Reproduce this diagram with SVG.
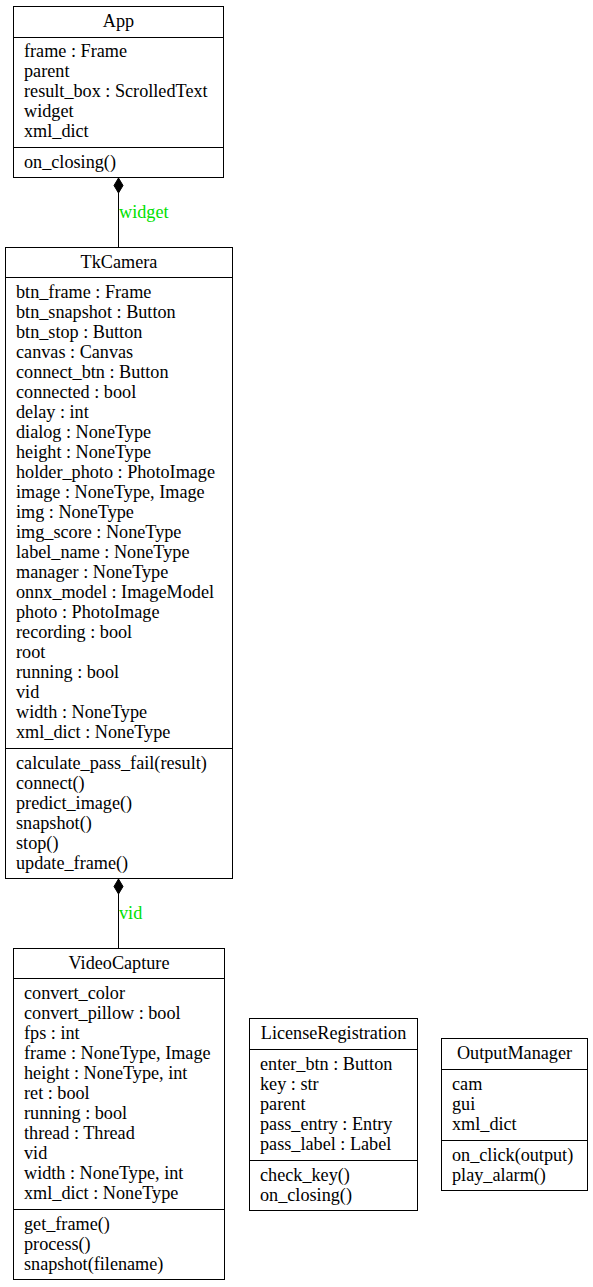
<svg xmlns="http://www.w3.org/2000/svg" width="593" height="1287" viewBox="0 0 593 1287">
<style>
text{font-family:"Liberation Serif","Times New Roman",serif;font-size:18.2px;fill:#000}
.t{text-anchor:middle}
.box{fill:#fff;stroke:#000;stroke-width:1}
.sep{stroke:#000;stroke-width:1}
.edge{stroke:#000;stroke-width:1;fill:none}
.lbl{fill:#00e000}
</style>
<rect width="593" height="1287" fill="#fff"/>
<g id="connectors">
<line class="edge" x1="118.5" y1="193" x2="118.5" y2="247"/>
<path d="M118.5,178 L123,185.5 L118.5,193 L114,185.5 Z" fill="#000" stroke="#000"/>
<text class="lbl" x="119" y="218">widget</text>
<line class="edge" x1="118.5" y1="894" x2="118.5" y2="948"/>
<path d="M118.5,879 L123,886.5 L118.5,894 L114,886.5 Z" fill="#000" stroke="#000"/>
<text class="lbl" x="119" y="919">vid</text>
</g>
<g id="App">
<rect class="box" x="13.5" y="6.5" width="210" height="171"/>
<text class="t" x="118.5" y="27">App</text>
<line class="sep" x1="13.5" y1="37.5" x2="223.5" y2="37.5"/>
<text x="24" y="57">frame : Frame</text>
<text x="24" y="77">parent</text>
<text x="24" y="97">result_box : ScrolledText</text>
<text x="24" y="117">widget</text>
<text x="24" y="137">xml_dict</text>
<line class="sep" x1="13.5" y1="147.5" x2="223.5" y2="147.5"/>
<text x="24" y="168">on_closing()</text>
</g>
<g id="TkCamera">
<rect class="box" x="5.5" y="247.5" width="227" height="631"/>
<text class="t" x="119" y="268">TkCamera</text>
<line class="sep" x1="5.5" y1="277.5" x2="232.5" y2="277.5"/>
<text x="16" y="298">btn_frame : Frame</text>
<text x="16" y="318">btn_snapshot : Button</text>
<text x="16" y="338">btn_stop : Button</text>
<text x="16" y="358">canvas : Canvas</text>
<text x="16" y="378">connect_btn : Button</text>
<text x="16" y="398">connected : bool</text>
<text x="16" y="418">delay : int</text>
<text x="16" y="438">dialog : NoneType</text>
<text x="16" y="458">height : NoneType</text>
<text x="16" y="478">holder_photo : PhotoImage</text>
<text x="16" y="498">image : NoneType, Image</text>
<text x="16" y="518">img : NoneType</text>
<text x="16" y="538">img_score : NoneType</text>
<text x="16" y="558">label_name : NoneType</text>
<text x="16" y="578">manager : NoneType</text>
<text x="16" y="598">onnx_model : ImageModel</text>
<text x="16" y="618">photo : PhotoImage</text>
<text x="16" y="638">recording : bool</text>
<text x="16" y="658">root</text>
<text x="16" y="678">running : bool</text>
<text x="16" y="698">vid</text>
<text x="16" y="718">width : NoneType</text>
<text x="16" y="738">xml_dict : NoneType</text>
<line class="sep" x1="5.5" y1="748.5" x2="232.5" y2="748.5"/>
<text x="16" y="769">calculate_pass_fail(result)</text>
<text x="16" y="789">connect()</text>
<text x="16" y="809">predict_image()</text>
<text x="16" y="829">snapshot()</text>
<text x="16" y="849">stop()</text>
<text x="16" y="869">update_frame()</text>
</g>
<g id="VideoCapture">
<rect class="box" x="13.5" y="948.5" width="211" height="331"/>
<text class="t" x="119" y="969">VideoCapture</text>
<line class="sep" x1="13.5" y1="978.5" x2="224.5" y2="978.5"/>
<text x="24" y="999">convert_color</text>
<text x="24" y="1019">convert_pillow : bool</text>
<text x="24" y="1039">fps : int</text>
<text x="24" y="1059">frame : NoneType, Image</text>
<text x="24" y="1079">height : NoneType, int</text>
<text x="24" y="1099">ret : bool</text>
<text x="24" y="1119">running : bool</text>
<text x="24" y="1139">thread : Thread</text>
<text x="24" y="1159">vid</text>
<text x="24" y="1179">width : NoneType, int</text>
<text x="24" y="1199">xml_dict : NoneType</text>
<line class="sep" x1="13.5" y1="1209.5" x2="224.5" y2="1209.5"/>
<text x="24" y="1230">get_frame()</text>
<text x="24" y="1250">process()</text>
<text x="24" y="1270">snapshot(filename)</text>
</g>
<g id="LicenseRegistration">
<rect class="box" x="249.5" y="1018.5" width="168" height="192"/>
<text class="t" x="333.5" y="1039">LicenseRegistration</text>
<line class="sep" x1="249.5" y1="1049.5" x2="417.5" y2="1049.5"/>
<text x="260" y="1070">enter_btn : Button</text>
<text x="260" y="1090">key : str</text>
<text x="260" y="1110">parent</text>
<text x="260" y="1130">pass_entry : Entry</text>
<text x="260" y="1150">pass_label : Label</text>
<line class="sep" x1="249.5" y1="1160.5" x2="417.5" y2="1160.5"/>
<text x="260" y="1181">check_key()</text>
<text x="260" y="1201">on_closing()</text>
</g>
<g id="OutputManager">
<rect class="box" x="441.5" y="1038.5" width="146" height="152"/>
<text class="t" x="514.5" y="1059">OutputManager</text>
<line class="sep" x1="441.5" y1="1069.5" x2="587.5" y2="1069.5"/>
<text x="452" y="1090">cam</text>
<text x="452" y="1110">gui</text>
<text x="452" y="1130">xml_dict</text>
<line class="sep" x1="441.5" y1="1140.5" x2="587.5" y2="1140.5"/>
<text x="452" y="1161">on_click(output)</text>
<text x="452" y="1181">play_alarm()</text>
</g>
</svg>
